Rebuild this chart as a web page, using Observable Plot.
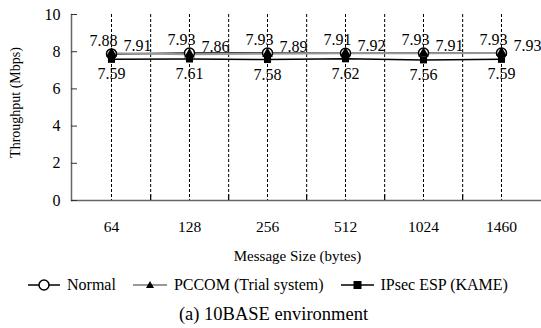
<!DOCTYPE html>
<html><head><meta charset="utf-8">
<script src="https://cdn.jsdelivr.net/npm/d3@7"></script>
<script src="https://cdn.jsdelivr.net/npm/@observablehq/plot@0.6"></script>
<style>
body{margin:0;background:#fff;font-family:"Liberation Serif",serif;color:#000;}
#legend{display:flex;align-items:center;height:30px;padding-left:28px;font-size:16px;font-family:"Liberation Serif",serif;}
.item{display:flex;align-items:center;margin-right:17px;}
.item svg{margin-right:7px;}
.item span{font-family:"Liberation Serif",serif;}
#caption{height:28px;line-height:28px;text-align:center;font-size:18.5px;padding-left:6px;font-family:"Liberation Serif",serif;}
svg text{font-family:"Liberation Serif",serif;}
</style>
</head><body>
<div id="chart"></div>
<div id="legend"></div>
<div id="caption">(a) 10BASE environment</div>
<script>
const sizes = ["64","128","256","512","1024","1460"];
const normal = [7.88, 7.93, 7.93, 7.91, 7.93, 7.93];
const pccom = [7.91, 7.86, 7.89, 7.92, 7.91, 7.93];
const ipsec = [7.59, 7.61, 7.58, 7.62, 7.56, 7.59];
const yTicks = [0, 2, 4, 6, 8, 10];
const seriesNames = ["Normal", "PCCOM (Trial system)", "IPsec ESP (KAME)"];
const xTitle = "Message Size (bytes)";
const yTitle = "Throughput (Mbps)";

const toRows = (vals, name) => sizes.map((s, i) => ({size: s, value: vals[i], series: name}));
const rNormal = toRows(normal, seriesNames[0]);
const rPccom = toRows(pccom, seriesNames[1]);
const rIpsec = toRows(ipsec, seriesNames[2]);

const FF = "Liberation Serif";
const W = 541, mL = 71, mR = 0;
const half = (W - mL - mR) / sizes.length / 2;
const fmt = d => d.value.toFixed(2);

const chart = Plot.plot({
  width: W, height: 270,
  marginLeft: mL, marginRight: mR, marginTop: 14, marginBottom: 70,
  style: {fontFamily: FF, fontSize: "15px", background: "#fff", color: "#000", overflow: "visible"},
  x: {type: "point", domain: sizes, padding: 0.5, label: null},
  y: {domain: [0, 10], label: null},
  marks: [
    Plot.ruleX(sizes, {stroke: "#000", strokeWidth: 1, strokeDasharray: "3,2"}),
    Plot.ruleX(sizes.slice(0, -1), {dx: half, stroke: "#000", strokeWidth: 1, strokeDasharray: "3,2"}),
    Plot.ruleX(sizes.slice(0, -1), {dx: half, y1: 0, y2: 0.3, stroke: "#000", strokeWidth: 1.2}),
    Plot.ruleY([0], {stroke: "#666", strokeWidth: 1.5}),
    Plot.frame({anchor: "left", stroke: "#666", strokeWidth: 1.5}),
    Plot.axisY({ticks: yTicks, tickSize: -6, tickPadding: 17, fontSize: 16, stroke: "#333", fontFamily: FF}),
    Plot.axisX({tickSize: 0, tickPadding: 20, fontSize: 15.5, fontFamily: FF}),
    Plot.text([xTitle], {frameAnchor: "bottom", dy: 60, dx: -9, fontSize: 15, fontFamily: FF}),
    Plot.text([yTitle], {frameAnchor: "left", textAnchor: "middle", rotate: -90, dx: -56, dy: -5, fontSize: 14, fontFamily: FF}),
    Plot.line(rNormal, {x: "size", y: "value", stroke: "#000", strokeWidth: 1.5}),
    Plot.line(rPccom, {x: "size", y: "value", stroke: "#999", strokeWidth: 2}),
    Plot.line(rIpsec, {x: "size", y: "value", stroke: "#000", strokeWidth: 1.5}),
    Plot.dot(rNormal, {x: "size", y: "value", r: 5, fill: "#fff", stroke: "#000", strokeWidth: 1.5}),
    Plot.dot(rPccom, {x: "size", y: "value", symbol: "triangle", r: 4, fill: "#000"}),
    Plot.dot(rIpsec, {x: "size", y: "value", symbol: "square", r: 4, fill: "#000"}),
    Plot.text(rNormal, {x: "size", y: "value", text: fmt, dy: -13, dx: -8, fontSize: 16, fontFamily: FF}),
    Plot.text(rPccom, {x: "size", y: "value", text: fmt, dy: -7, dx: 12, textAnchor: "start", fontSize: 16, fontFamily: FF}),
    Plot.text(rIpsec, {x: "size", y: "value", text: fmt, dy: 15, dx: 0, fontSize: 16, fontFamily: FF})
  ]
});
document.getElementById("chart").appendChild(chart);

const swatches = [
  `<svg width="32" height="14"><line x1="0" y1="7" x2="32" y2="7" stroke="#000" stroke-width="1.5"/><circle cx="16" cy="7" r="5" fill="#fff" stroke="#000" stroke-width="1.5"/></svg>`,
  `<svg width="34" height="14"><line x1="0" y1="7" x2="34" y2="7" stroke="#999" stroke-width="2"/><path d="M17,3 L21,10 L13,10 Z" fill="#000"/></svg>`,
  `<svg width="33" height="14"><line x1="0" y1="7" x2="33" y2="7" stroke="#000" stroke-width="1.5"/><rect x="12.5" y="3" width="8" height="8" fill="#000"/></svg>`
];
const legend = document.getElementById("legend");
seriesNames.forEach((n, i) => {
  const d = document.createElement("div");
  d.className = "item";
  d.innerHTML = swatches[i] + `<span>${n}</span>`;
  legend.appendChild(d);
});
</script>
</body></html>
